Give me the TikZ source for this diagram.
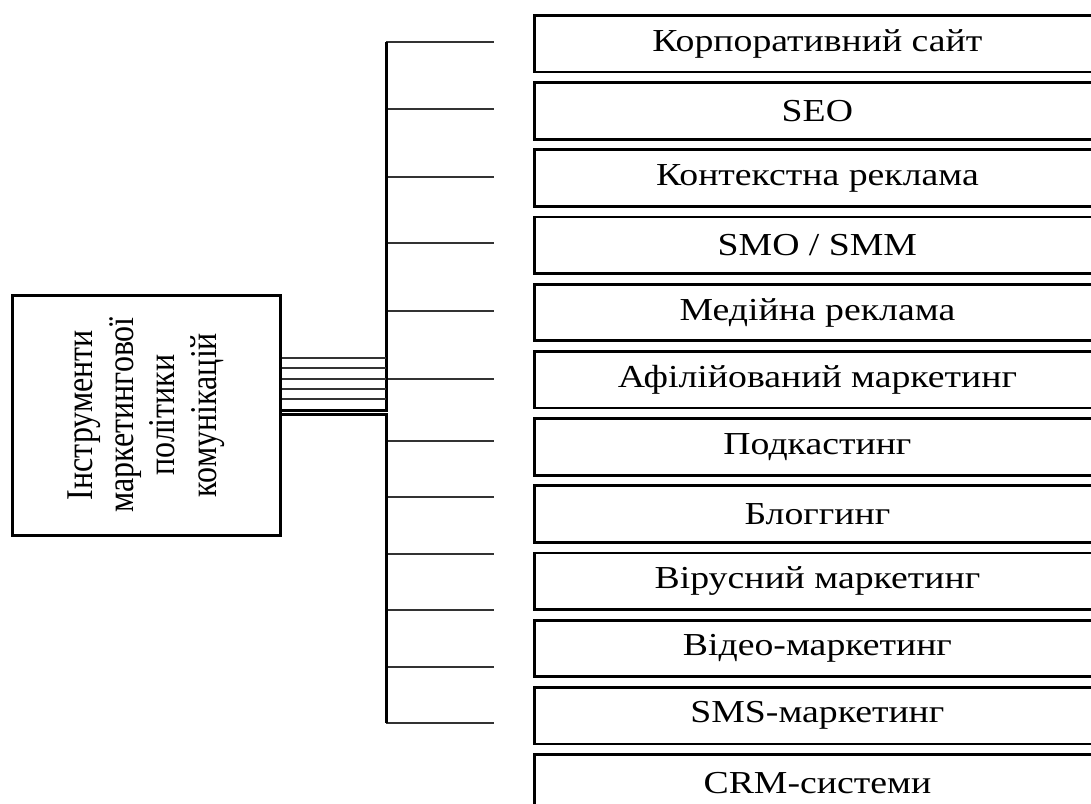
\documentclass[tikz,border=0pt]{standalone}
\usepackage{fontspec}
\setmainfont{Liberation Serif}
\begin{document}
\begin{tikzpicture}[x=1pt,y=-1pt,
  item/.style={draw, line width=2.8pt, minimum width=566pt, minimum height=56.5pt,
    anchor=north west, inner sep=0pt, font=\fontsize{32}{34}\selectfont},
  mainbox/.style={draw, line width=3pt, rotate=90, minimum width=240pt, minimum height=268pt,
    inner sep=0pt, font=\fontsize{32}{35}\selectfont},
  wire/.style={line width=2.6pt, draw=black!80},
  bus/.style={line width=3pt, draw=black}]
\path[use as bounding box] (0,0) rectangle (1091,803);
\clip (0,0) rectangle (1091,803);

% left box
\node[mainbox] (main) at (146,415)
  {\scalebox{1}[1.18]{\begin{tabular}{@{}c@{}}Інструменти\\маркетингової\\політики\\комунікацій\end{tabular}}};

% right boxes
\foreach \t [count=\i from 0] in {Корпоративний сайт, SEO, Контекстна реклама, SMO / SMM,
  Медійна реклама, Афілійований маркетинг, Подкастинг, Блоггинг, Вірусний маркетинг,
  Відео-маркетинг, SMS-маркетинг, CRM-системи}
  \node[item] (b\i) at (533,{14+\i*67.2}) {\scalebox{1.18}[1]{\t}};

% bus taps and stub ends
\foreach \y [count=\i] in {42,109,177,243,311,379,441,497,554,610,667,723} {
  \coordinate (t\i) at (386,\y);
  \coordinate (s\i) at (494,\y);
  \draw[wire] (t\i) -- (s\i);
}
\coordinate (bu) at (386,410);
\coordinate (bl) at (386,414);

% bus
\draw[bus] (t1) -- (bu) -- (main.south |- bu);
\draw[bus] (main.south |- bl) -- (bl) -- (t12);

% parallel links from the box to the bus
\foreach \y in {358,368,379,389,399}
  \draw[wire] (main.south |- 0,\y) -- (386,\y);
\end{tikzpicture}
\end{document}
